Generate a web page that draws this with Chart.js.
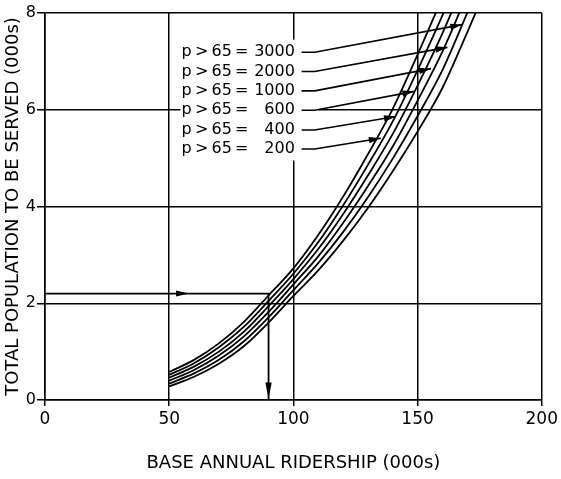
<!DOCTYPE html>
<html>
<head>
<meta charset="utf-8">
<script src="https://cdn.jsdelivr.net/npm/chart.js@4.4.0/dist/chart.umd.min.js"></script>
<style>
  html, body { margin: 0; padding: 0; background: #fff; }
  #wrap { width: 561px; height: 479px; }
</style>
</head>
<body>
<div id="wrap"><canvas id="chart" width="561" height="479"></canvas></div>
<script>
// base annual ridership (000s)
const ridership = [50, 60, 70, 80, 90, 100, 110, 120, 130, 140, 150, 160, 170, 180];

// total population to be served (000s), one curve per p>65 value
const pop200  = [0.58, 0.83, 1.17, 1.61, 2.16, 2.72, 3.41, 4.20, 5.08, 6.02, 7.14, 8.33, 9.6, 11.0];
const pop400  = [0.52, 0.76, 1.09, 1.51, 2.05, 2.61, 3.26, 4.02, 4.86, 5.76, 6.82, 7.95, 9.2, 10.6];
const pop600  = [0.46, 0.69, 1.00, 1.41, 1.94, 2.50, 3.12, 3.84, 4.64, 5.50, 6.50, 7.58, 8.8, 10.1];
const pop1000 = [0.40, 0.62, 0.92, 1.31, 1.82, 2.39, 2.97, 3.66, 4.42, 5.24, 6.19, 7.20, 8.4, 9.7];
const pop2000 = [0.34, 0.55, 0.83, 1.21, 1.71, 2.27, 2.83, 3.47, 4.19, 4.99, 5.87, 6.82, 8.0, 9.2];
const pop3000 = [0.28, 0.48, 0.75, 1.11, 1.60, 2.15, 2.68, 3.29, 3.97, 4.73, 5.55, 6.45, 7.6, 8.8];

// label block, top to bottom
const groups = ['3000', '2000', '1000', '600', '400', '200'];
const labelY = [7.19, 6.79, 6.39, 5.99, 5.58, 5.19];
const tipX = [168, 162, 155.4, 148.7, 141.3, 135.2];
const tipY = [7.76, 7.29, 6.85, 6.38, 5.86, 5.41];

// worked example: 2.2 thousand people -> 90 thousand riders
const exampleX = [0, 90, 90];
const exampleY = [2.2, 2.2, 0];

const xTicks = [0, 50, 100, 150, 200];
const yTicks = [0, 2, 4, 6, 8];

const FONT = '"DejaVu Sans", Verdana, sans-serif';

const toPoints = (ys) => ridership.map((x, i) => ({ x: x, y: ys[i] }));
const curves = [pop200, pop400, pop600, pop1000, pop2000, pop3000];

const datasets = curves.map((ys) => ({
  data: toPoints(ys),
  borderColor: '#000',
  borderWidth: 1.8,
  pointRadius: 0,
  showLine: true,
  cubicInterpolationMode: 'monotone',
}));

datasets.push({
  data: exampleX.map((x, i) => ({ x: x, y: exampleY[i] })),
  borderColor: '#000',
  borderWidth: 1.8,
  pointRadius: 0,
  showLine: true,
});

function arrowHead(ctx, fx, fy, tx, ty, len, half) {
  const a = Math.atan2(ty - fy, tx - fx);
  ctx.beginPath();
  ctx.moveTo(tx, ty);
  ctx.lineTo(tx - len * Math.cos(a) + half * Math.sin(a), ty - len * Math.sin(a) - half * Math.cos(a));
  ctx.lineTo(tx - len * Math.cos(a) - half * Math.sin(a), ty - len * Math.sin(a) + half * Math.cos(a));
  ctx.closePath();
  ctx.fill();
}

const notes = {
  id: 'notes',
  beforeDatasetsDraw(chart) {
    const { ctx, scales: { x, y } } = chart;
    // blank area behind the label block
    ctx.save();
    ctx.fillStyle = '#fff';
    const l = x.getPixelForValue(54.5), r = x.getPixelForValue(110);
    const t = y.getPixelForValue(7.45), b = y.getPixelForValue(4.95);
    ctx.fillRect(l, t, r - l, b - t);
    ctx.restore();
  },
  afterDatasetsDraw(chart) {
    const { ctx, scales: { x, y } } = chart;
    ctx.save();
    ctx.fillStyle = '#000';
    ctx.strokeStyle = '#000';
    ctx.lineWidth = 1.6;
    ctx.font = '16px ' + FONT;
    ctx.textBaseline = 'middle';
    for (let i = 0; i < groups.length; i++) {
      const py = y.getPixelForValue(labelY[i]);
      ctx.textAlign = 'left';
      ctx.fillText('p\u2009>\u200965\u2009=', x.getPixelForValue(55), py);
      ctx.textAlign = 'right';
      ctx.fillText(groups[i], x.getPixelForValue(100.6), py);

      const sx = x.getPixelForValue(103.3);
      const bx = x.getPixelForValue(108.6);
      const tx = x.getPixelForValue(tipX[i]);
      const ty = y.getPixelForValue(tipY[i]);
      ctx.beginPath();
      ctx.moveTo(sx, py);
      ctx.lineTo(bx, py);
      ctx.lineTo(tx, ty);
      ctx.stroke();
      arrowHead(ctx, bx, py, tx, ty, 12, 3.2);
    }

    // arrowheads on the worked example
    const y22 = y.getPixelForValue(exampleY[0]);
    arrowHead(ctx, x.getPixelForValue(0), y22, x.getPixelForValue(58), y22, 13, 3);
    const vx = x.getPixelForValue(exampleX[1]);
    arrowHead(ctx, vx, y.getPixelForValue(2.2), vx, y.getPixelForValue(0.03), 16, 3.2);
    ctx.restore();
  },
};

new Chart(document.getElementById('chart'), {
  type: 'scatter',
  data: { datasets: datasets },
  options: {
    responsive: false,
    animation: false,
    layout: { padding: { top: 13, right: 19, left: 0, bottom: 0 } },
    plugins: { legend: { display: false }, tooltip: { enabled: false } },
    scales: {
      x: {
        type: 'linear',
        min: 0,
        max: 200,
        afterBuildTicks: (s) => { s.ticks = xTicks.map((v) => ({ value: v })); },
        afterFit: (s) => { s.height = 79; },
        ticks: { color: '#000', font: { family: FONT, size: 17 }, padding: 3 },
        grid: { color: '#000', lineWidth: 1.5, tickLength: 6 },
        border: { color: '#000', width: 1.5 },
        title: {
          display: true,
          text: 'BASE ANNUAL RIDERSHIP (000s)',
          color: '#000',
          font: { family: FONT, size: 18 },
          padding: { top: 0, bottom: 5 },
        },
      },
      y: {
        type: 'linear',
        min: 0,
        max: 8,
        afterBuildTicks: (s) => { s.ticks = yTicks.map((v) => ({ value: v })); },
        afterFit: (s) => { s.width = 45; },
        ticks: { color: '#000', font: { family: FONT, size: 16 }, padding: 1 },
        grid: { color: '#000', lineWidth: 1.5, tickLength: 8 },
        border: { color: '#000', width: 1.5 },
        title: {
          display: true,
          text: 'TOTAL POPULATION TO BE SERVED (000s)',
          color: '#000',
          font: { family: FONT, size: 18 },
          padding: { top: 3, bottom: 0 },
        },
      },
    },
  },
  plugins: [notes],
});
</script>
</body>
</html>
